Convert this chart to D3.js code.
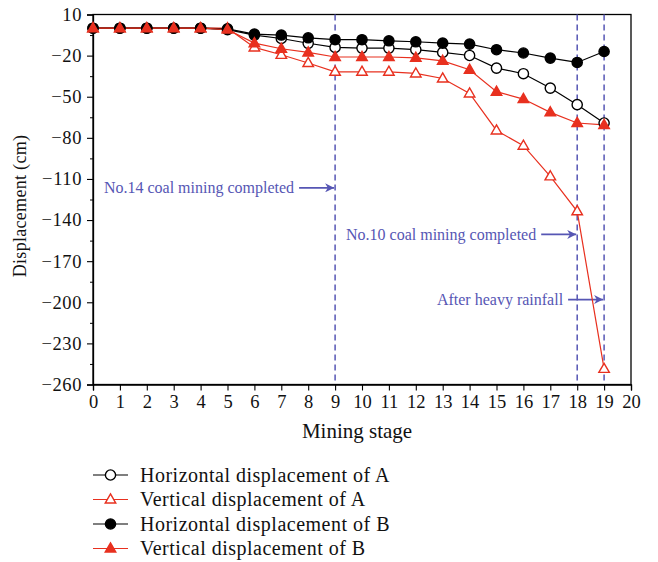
<!DOCTYPE html>
<html><head><meta charset="utf-8">
<script src="https://cdn.jsdelivr.net/npm/d3@7"></script>
<style>body{margin:0;background:#fff}svg{display:block}text{font-family:"Liberation Serif","Times New Roman",serif}</style>
</head><body><svg id="c" width="658" height="562"></svg>
<script>
const stages = d3.range(0, 20);
const horizA = [0,0,0,0,0,-1,-5,-7.5,-11,-14,-14.5,-14.5,-15.7,-17.7,-19.9,-29.1,-33.2,-43.7,-55.8,-69.2];
const vertA  = [0,0,0,0,0,0,-14,-19.4,-25.4,-31.8,-31.8,-31.8,-33,-36.7,-47.6,-74.6,-85.7,-108.1,-133.6,-248.6];
const horizB = [0,0,0,0,0,-0.5,-4.3,-5,-7,-8.4,-8.4,-9.2,-9.9,-10.9,-11.6,-15.7,-18.1,-21.8,-25,-17];
const vertB  = [0,0,0,0,0,-1,-10.9,-15,-17.7,-21,-21,-21,-21.6,-23.8,-30.3,-46.3,-51.7,-61.4,-69.2,-70.6];
const xTicks = d3.range(0, 21);
const yTicks = [10,-20,-50,-80,-110,-140,-170,-200,-230,-260];
const yMinor = [-5,-35,-65,-95,-125,-155,-185,-215,-245];
const events = [
  {stage: 9, label: "No.14 coal mining completed", y: -116.5},
  {stage: 18, label: "No.10 coal mining completed", y: -150.5},
  {stage: 19, label: "After heavy rainfall", y: -198}
];
const seriesNames = ["Horizontal displacement of A","Vertical displacement of A","Horizontal displacement of B","Vertical displacement of B"];

const RED = "#e8301f", BLUE = "#5656b4";
const series = [
  {name: seriesNames[0], values: horizA, color: "#000", shape: "circle", filled: false},
  {name: seriesNames[1], values: vertA, color: RED, shape: "tri", filled: false},
  {name: seriesNames[2], values: horizB, color: "#000", shape: "circle", filled: true},
  {name: seriesNames[3], values: vertB, color: RED, shape: "tri", filled: true}
];

const svg = d3.select("#c");
const L = 93, R = 631, T = 14.5, B = 384.5;
const x = d3.scaleLinear().domain([0, 20]).range([L, R]);
const y = d3.scaleLinear().domain([10, -260]).range([T, B]);

// frame
svg.append("rect").attr("x", L).attr("y", T).attr("width", R - L).attr("height", B - T)
  .attr("fill", "none").attr("stroke", "#000").attr("stroke-width", 1.3);

const xa = svg.append("g").attr("transform", `translate(0,${B})`)
  .call(d3.axisBottom(x).tickValues(xTicks).tickSize(6).tickPadding(4).tickFormat(d3.format("d")));
const ya = svg.append("g").attr("transform", `translate(${L},0)`)
  .call(d3.axisLeft(y).tickValues(yTicks).tickSize(6).tickPadding(4).tickFormat(d => d < 0 ? "\u2212" + Math.abs(d) : d));
svg.append("g").attr("transform", `translate(${L},0)`)
  .call(d3.axisLeft(y).tickValues(yMinor).tickSize(3).tickFormat(""))
  .select(".domain").remove();
svg.selectAll(".domain").attr("stroke-width", 1.3);
[xa, ya].forEach(g => {
  g.selectAll("text").attr("font-size", 18.5).attr("fill", "#111").attr("font-family", "Liberation Serif");
  g.selectAll("line").attr("stroke-width", 1.1);
});
ya.selectAll("text").attr("dx", -1).attr("letter-spacing", 0.6);

// dashed event lines
events.forEach(e => {
  svg.append("line").attr("x1", x(e.stage)).attr("x2", x(e.stage)).attr("y1", T).attr("y2", B)
    .attr("stroke", BLUE).attr("stroke-width", 1.5).attr("stroke-dasharray", "6,4");
});

// arrow marker
svg.append("defs").append("marker").attr("id", "arr").attr("viewBox", "0 0 10 10")
  .attr("refX", 10).attr("refY", 5).attr("markerWidth", 9).attr("markerHeight", 9)
  .attr("markerUnits", "userSpaceOnUse").attr("orient", "auto")
  .append("path").attr("d", "M0,0 L10,5 L0,10 L3,5 Z").attr("fill", BLUE);

events.forEach(e => {
  const xe = x(e.stage) - 1;
  svg.append("line").attr("x1", xe - 35).attr("x2", xe).attr("y1", y(e.y)).attr("y2", y(e.y))
    .attr("stroke", BLUE).attr("stroke-width", 1.8).attr("marker-end", "url(#arr)");
  svg.append("text").attr("x", xe - 40).attr("y", y(e.y)).attr("dy", "0.32em")
    .attr("text-anchor", "end").attr("font-size", 16).attr("fill", BLUE).text(e.label);
});

const sym = {
  circle: d3.symbol().type(d3.symbolCircle).size(82),
  tri: d3.symbol().type(d3.symbolTriangle).size(48)
};
const line = d3.line().x((d, i) => x(stages[i])).y(d => y(d));

series.forEach(s => {
  svg.append("path").attr("d", line(s.values)).attr("fill", "none")
    .attr("stroke", s.color).attr("stroke-width", 1.2);
});
series.forEach(s => {
  svg.append("g").selectAll("path").data(s.values).join("path")
    .attr("transform", (d, i) => `translate(${x(stages[i])},${y(d) + (s.shape === "tri" ? 0.5 : 0)})`)
    .attr("d", sym[s.shape])
    .attr("fill", s.filled ? s.color : "#fff").attr("stroke", s.color).attr("stroke-width", 1.4);
});

// axis titles
svg.append("text").attr("x", 357).attr("y", 438).attr("text-anchor", "middle")
  .attr("font-size", 21).attr("fill", "#111").text("Mining stage");
svg.append("text").attr("transform", `translate(26,206) rotate(-90)`)
  .attr("text-anchor", "middle").attr("font-size", 18).attr("letter-spacing", 0.3).attr("fill", "#111").text("Displacement (cm)");

// legend
const lg = svg.append("g");
series.forEach((s, i) => {
  const yy = 475 + i * 24.5;
  lg.append("line").attr("x1", 93).attr("x2", 128).attr("y1", yy).attr("y2", yy)
    .attr("stroke", s.color).attr("stroke-width", 1.2);
  lg.append("path").attr("transform", `translate(110.5,${yy + (s.shape === "tri" ? 0.5 : 0)})`)
    .attr("d", sym[s.shape]).attr("fill", s.filled ? s.color : "#fff").attr("stroke", s.color).attr("stroke-width", 1.4);
  lg.append("text").attr("x", 140).attr("y", yy).attr("dy", "0.33em").attr("font-size", 20)
    .attr("letter-spacing", 0.5).attr("fill", "#111").text(s.name);
});
</script></body></html>
